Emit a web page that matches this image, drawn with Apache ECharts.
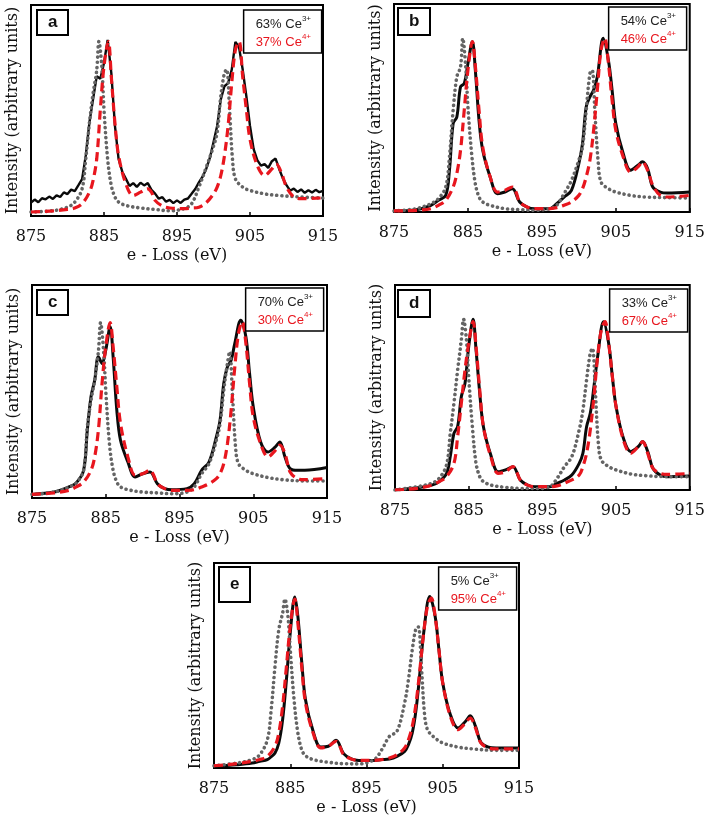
<!DOCTYPE html>
<html><head><meta charset="utf-8">
<script src="https://cdn.jsdelivr.net/npm/echarts@6/dist/echarts.min.js"></script>
<style>html,body{margin:0;padding:0;background:#fff}#c{width:708px;height:822px}</style>
</head><body><div id="c"></div>
<script>
// ---------- DATA ----------
const panelLabels = ['a', 'b', 'c', 'd', 'e'];
const ce3Pct = [63, 54, 70, 33, 5];
const ce4Pct = [37, 46, 30, 67, 95];
const xTicks = [875, 885, 895, 905, 915];
const xTitle = 'e - Loss (eV)';
const yTitle = 'Intensity (arbitrary units)';

// energy grids (eV)
const greyX = [875,878,880,881,882,882.5,883,883.5,884,884.3,884.7,885,885.5,886,886.5,887,888,890,892,894,896,897,898,899,900,900.5,901,901.5,901.8,902.2,902.6,903,904,905,907,909,912,915];
const redX = [875,878,880,881,882,883,883.5,884,884.5,885,885.6,886,886.5,887,888,889,890,891,891.5,892,893,894,896,897,898,899,900,900.5,901,901.5,902,902.5,903,903.5,904,904.5,905,906,907,908,908.6,909.3,910,911,912,915];
const blackX = [875,878,880,881,882,882.5,883,883.5,884,884.5,885,885.6,886,886.5,887,888,889,890,891,892,893,894,896,897,898,899,900,900.5,901,901.5,902,902.5,903.3,904,904.5,905,906,907,908,908.6,909.3,910,911,912,915];
const blackAX = [875,875.5,876,876.5,877,877.5,878,878.5,879,879.5,880,880.5,881,881.5,882,882.5,883,883.5,884,884.5,885,885.5,886,886.5,887,887.5,888,888.5,889,889.5,890,890.5,891,891.5,892,892.5,893,893.5,894,894.5,895,895.5,896,896.5,897,897.5,898,898.5,899,899.5,900,900.5,901,901.5,902,902.5,903,903.5,904,904.5,905,905.5,906,906.5,907,907.5,908,908.5,909,909.5,910,910.5,911,911.5,912,912.5,913,913.5,914,914.5,915];

// Ce3+ reference (grey dotted), intensity in % of frame height
const ce3A = [1.9,2.5,4.2,6.6,12.9,27,44,58,69,82.7,71,50.5,27,14.4,9,6.6,5,3.8,3.1,2.5,3.5,5.8,13.7,23,33,39.6,56.8,67.8,69.4,50.5,27,17.6,13.7,12.1,10.5,9.7,9,8.5];
const ce3B = [0.5,1.6,4,6.4,12,26.5,49,65,69.8,83.5,69.8,50.6,28.1,13.6,7.2,4.8,3.2,1.6,1.1,0.8,1.6,3.2,8.8,15.2,24.9,31.3,49,66.6,68.2,46.2,24.9,14.4,11.2,9.6,8,7.2,6.9,6.7];
const ce3C = [1.7,2.8,5.2,7.1,13,33.4,45.9,55.3,68.7,82.3,69.4,50.6,25.5,13,7.5,5.2,3.9,2.8,2.4,2,2.8,5.2,11.4,16.1,27.1,35,50.6,63.2,68.7,47.5,24,16.1,13,11.4,9.6,8.6,8,8];
const ce3D = [0,1.6,3.3,5.7,12.2,27.6,42.3,58.5,73.2,83.3,73.2,55.3,30.9,13,6.5,4.1,2.4,1.3,0.8,0.7,1.6,5.7,11.4,16.3,29.3,39,53.7,66.7,69.1,47.2,22.8,14.6,11.4,9.8,7.8,7,6.5,6.5];
const ce3E = [1.1,2.4,4.1,6.5,13.8,28.5,49.6,67.5,75.6,82.4,74,57.7,33.3,17.1,8.9,6,4.1,2.8,2.1,2,4.1,8.9,15.4,17.9,31.7,43.1,57.7,68.3,68.8,49.6,26.8,18.7,14.6,12.2,10.2,9.3,8.6,8.6];

// Ce4+ reference (red dashed)
const ce4A = [1.9,2.4,3.1,3.8,5.8,11.3,16.8,27,50.5,71,82.7,66,44,28.6,15.2,9.7,11.3,12.9,11.3,7.4,4.7,3.8,3.5,3.8,4.2,6.3,10.5,13.7,19.2,28.6,42.7,63,78.8,82.7,66,50.5,36.4,23.9,19.2,22.3,24.6,20.5,13.7,9,8.2,8.6];
const ce4B = [0.5,0.8,1.6,3.2,5.6,12,18.5,29.7,49,68.2,81.9,70.3,49,31.3,16.9,9.6,10.4,12,9.6,4.8,2.4,1.6,1.6,2.1,3.2,4.8,8,11.2,16.9,24.9,39.3,58.6,77.8,83.5,71.6,53.8,39.3,26.5,19.3,21.7,24.1,20.1,12.8,8,7.2,8];
const ce4C = [1.7,2.4,3.6,5.2,7.5,13,19.3,31.8,53.8,71,82.3,71,52.2,35,19.3,10.7,11.4,13,10.7,6.7,4.4,3.6,3.6,3.9,5.2,6.7,9.1,11.4,16.1,25.5,41.2,61.6,77.3,82.8,72.6,53.8,38.1,25.5,19.3,22.4,24.8,20.8,12.2,9.1,8.6,9.1];
const ce4D = [0,0.8,2.4,4.1,6.5,13,26,42.3,58.5,71.5,82.1,69.9,48.8,30.9,16.3,8.1,8.9,11.4,8.9,4.9,2.4,1.6,1.6,2,3.3,4.9,7.3,11.4,17.9,29.3,45.5,65,78,82.1,71.5,55.3,40.7,24.4,17.9,21.1,23.6,17.9,10.6,8.1,7.6,8.1];
const ce4E = [1.1,2.1,3.3,4.1,5.7,10.6,17.1,30.1,49.6,69.1,82.4,70.7,49.6,31.7,17.1,9.8,10.6,13,10.6,6.5,4.4,3.7,3.7,4.1,4.9,6.5,9.8,13.8,20.3,31.7,48,65.9,78.9,82.9,74,57.7,41.5,25.2,18.7,22,24.4,19.5,12.2,9.8,9.3,9.3];

// measured spectra (black solid)
const measA = [6.3,7.8,6.5,8.4,7.9,9.2,8.1,9.8,9.0,11.2,10.4,12.5,11.8,14.6,17.5,28.6,44.3,55.3,66.2,65.0,72.5,83.5,67.8,42.7,27.0,21.0,17.6,14.2,15.6,13.8,15.8,14.5,15.6,12.4,10.6,8.2,8.9,6.8,7.6,6.1,7.4,6.2,7.8,8.3,10.5,12.8,15.9,18.6,22.3,27.5,34.9,42.7,55.3,61.5,63.0,69.4,82.5,80.0,69.4,56.8,42.7,31.7,26.5,23.9,24.6,22.8,26.0,27.2,22.3,17.8,14.6,12.0,13.0,11.4,12.6,11.0,12.2,11.1,12.4,11.3,11.9];
const measB = [0.5,1.1,3.2,5.6,8,20,42.5,45.7,60.2,61.8,71.4,81.9,68.2,44.1,29.7,16.9,8.8,9.6,11.2,4.8,2.4,1.6,1.6,4,7.2,10.4,23.3,32.9,50.6,55.4,58.6,65,83.5,73,58.6,42.5,28.1,20.1,22.5,24.1,20.9,12,9.6,9.1,9.6];
const measC = [1.7,2.8,5.2,7.1,13,31.8,47.5,55.3,66.3,63.2,69.4,80.4,66.3,41.2,27.1,16.9,9.9,11.4,12.2,6.7,4.4,3.9,4.4,6.7,13,16.9,28.7,36.5,53.8,61.6,64.7,72.6,83.5,75.7,58.5,42.8,26.3,21.6,24,26.3,19.3,13.8,13,13,14.3];
const measD = [0,1.1,2.4,4.1,8.1,16.3,27.6,30.9,45.5,52,69.9,83.3,68.3,47.2,30.9,17.1,8.9,9.8,11.4,4.9,2.4,1.6,1.6,3.3,4.9,7.3,13,17.9,30.9,37.4,50.4,65,82.1,71.5,55.3,40.7,25.2,18.7,21.1,23.6,18.7,10.6,7.3,6.5,6.8];
const measE = [0.8,1.6,2.4,3.3,4.1,5.5,7.3,12.2,23.6,43.1,65.9,83.4,74,52,33.3,17.9,10.2,10.6,13.5,7,4.4,3.7,3.7,4.1,4.4,5.7,8.1,11.4,17.1,28.5,46.3,65.9,83.7,74,57.7,41.5,26,19.5,22.8,25.5,20.3,12.5,10.2,9.8,9.8];

// ---------- LAYOUT / STYLE ----------
const FONT_SERIF = 'DejaVu Serif';
const FONT_SANS = 'Liberation Sans';
const RED = '#e8161e';
const GREY = '#646464';
const panels = [
  {g: {left: 31, top: 5, width: 292, height: 211}, lab: {left: 37, top: 10, pv: 3}, legR: 386, legT: 10,
   ce3: ce3A, ce4: ce4A, meas: measA, measX: blackAX, noisy: true},
  {g: {left: 394, top: 4, width: 296, height: 208}, lab: {left: 398, top: 8, pv: 4}, legR: 21, legT: 7,
   ce3: ce3B, ce4: ce4B, meas: measB, measX: blackX},
  {g: {left: 32, top: 285, width: 295, height: 213}, lab: {left: 37, top: 290, pv: 3}, legR: 384, legT: 288,
   ce3: ce3C, ce4: ce4C, meas: measC, measX: blackX},
  {g: {left: 395, top: 285, width: 297, height: 205}, lab: {left: 398, top: 290, pv: 4}, legR: 20, legT: 289,
   ce3: ce3D, ce4: ce4D, meas: measD, measX: blackX},
  {g: {left: 214, top: 563, width: 305, height: 205}, lab: {left: 219, top: 567, pv: 8}, legR: 191, legT: 567,
   ce3: ce3E, ce4: ce4E, meas: measE, measX: blackX}
];

const zip = (xs, ys) => xs.map((x, i) => [x, ys[i]]);

const grid = [], xAxis = [], yAxis = [], series = [], title = [];
panels.forEach((p, i) => {
  grid.push(Object.assign({show: true, borderColor: '#000', borderWidth: 2, backgroundColor: 'transparent'}, p.g));
  xAxis.push({
    type: 'value', gridIndex: i, min: xTicks[0], max: xTicks[xTicks.length - 1], interval: xTicks[1] - xTicks[0],
    axisLine: {show: true, onZero: false, lineStyle: {color: '#000', width: 2}},
    axisTick: {show: true, inside: true, length: 4, lineStyle: {color: '#000', width: 1.5}},
    axisLabel: {fontSize: 16, fontFamily: FONT_SERIF, color: '#111', margin: 13},
    splitLine: {show: false},
    name: xTitle, nameLocation: 'middle', nameGap: 32,
    nameTextStyle: {fontSize: 16, fontFamily: FONT_SERIF, color: '#111'}
  });
  yAxis.push({
    type: 'value', gridIndex: i, min: 0, max: 100,
    axisLine: {show: true, lineStyle: {color: '#000', width: 2}},
    axisTick: {show: false}, axisLabel: {show: false}, splitLine: {show: false},
    name: yTitle, nameLocation: 'middle', nameGap: 10, nameRotate: 90,
    nameTextStyle: {fontSize: 16, fontFamily: FONT_SERIF, color: '#111'}
  });
  series.push({
    type: 'line', xAxisIndex: i, yAxisIndex: i, data: zip(p.measX, p.meas), showSymbol: false,
    smooth: p.noisy ? false : 0.35, z: 2,
    lineStyle: {color: '#0a0a0a', width: p.noisy ? 2.4 : 3}
  });
  series.push({
    type: 'line', xAxisIndex: i, yAxisIndex: i, data: zip(greyX, p.ce3), showSymbol: false,
    smooth: 0.35, z: 3,
    lineStyle: {color: GREY, width: 3.6, type: [0.1, 5], cap: 'round'}
  });
  series.push({
    type: 'line', xAxisIndex: i, yAxisIndex: i, data: zip(redX, p.ce4), showSymbol: false,
    smooth: 0.35, z: 4,
    lineStyle: {color: RED, width: 3.2, type: [9, 5], cap: 'butt'}
  });
  title.push({
    text: panelLabels[i], left: p.lab.left, top: p.lab.top,
    padding: [p.lab.pv, 11, p.lab.pv, 11], borderColor: '#000', borderWidth: 2, backgroundColor: '#fff',
    textStyle: {fontSize: 17, fontWeight: 'bold', fontFamily: FONT_SANS, color: '#111', lineHeight: 19}
  });
  title.push({
    text: '{k|' + ce3Pct[i] + '% Ce}{ks|3+}\n{r|' + ce4Pct[i] + '% Ce}{rs|4+}',
    right: p.legR, top: p.legT,
    padding: [5, 11, 5, 12], borderColor: '#000', borderWidth: 1.5, backgroundColor: '#fff',
    textStyle: {
      fontWeight: 'normal',
      rich: {
        k: {fontSize: 13, fontWeight: 'normal', fontFamily: FONT_SANS, color: '#222', lineHeight: 18},
        ks: {fontSize: 8, fontWeight: 'normal', fontFamily: FONT_SANS, color: '#222', lineHeight: 18, verticalAlign: 'top', padding: [0, 0, 6, 0]},
        r: {fontSize: 13, fontWeight: 'normal', fontFamily: FONT_SANS, color: RED, lineHeight: 18},
        rs: {fontSize: 8, fontWeight: 'normal', fontFamily: FONT_SANS, color: RED, lineHeight: 18, verticalAlign: 'top', padding: [0, 0, 6, 0]}
      }
    }
  });
});

const chart = echarts.init(document.getElementById('c'), null, {renderer: 'canvas'});
chart.setOption({animation: false, backgroundColor: '#fff', grid, xAxis, yAxis, series, title});
</script>
</body></html>
